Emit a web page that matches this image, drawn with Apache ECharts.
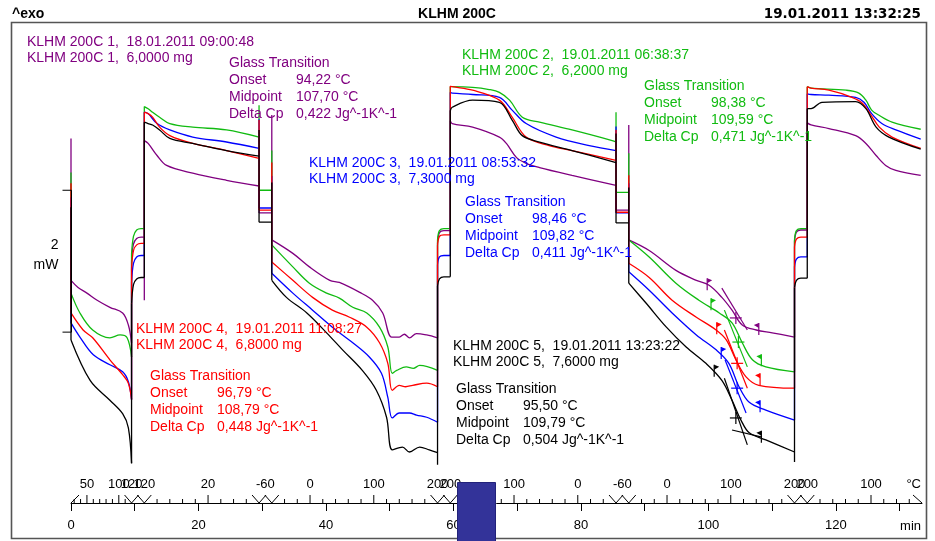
<!DOCTYPE html>
<html>
<head>
<meta charset="utf-8">
<script src="https://cdn.jsdelivr.net/npm/echarts/dist/echarts.min.js"></script>
<style>
  html, body { margin: 0; padding: 0; background: #fff; }
  #chart { width: 935px; height: 541px; }
</style>
</head>
<body>
<div id="chart"></div>
<script>
// ---------------------------------------------------------------
// DSC heat-flow overlay, KLHM 200C samples 1..5 (time in min, heat flow in mW)
// ---------------------------------------------------------------

// Temperature program: boundary times (min) and furnace temperature (°C)
const programTimes = [0, 9.5, 11.5, 29.5, 31.5, 57.5, 59.5, 85.5, 87.5, 113.5, 115.5, 133.5];
const programTemps = [25, 120, 120, -60, -60, 200, 200, -60, -60, 200, 200, 20];
// temperature tick spacing per segment (0 = isothermal)
const tempTickStep = [10, 0, 20, 0, 20, 0, 20, 0, 20, 0, 20];
// temperature labels: [segment, °C] on ramps, [segment, °C, fraction] on isotherms
const tempLabels = [
  [0, 50], [0, 100], [1, 120, 0], [1, 120, 1], [2, 20], [3, -60, 0.5],
  [4, 0], [4, 100], [5, 200, 0], [5, 200, 1], [6, 100], [6, 0], [7, -60, 0.5],
  [8, 0], [8, 100], [9, 200, 0], [9, 200, 1], [10, 100]
];
const timeTicks = [0, 10, 20, 30, 40, 50, 60, 70, 80, 90, 100, 110, 120, 130];
const timeLabels = [0, 20, 40, 60, 80, 100, 120];
const bracketSpan = 2; // mW

// Sample identification
const sampleNames = ['KLHM 200C 1', 'KLHM 200C 2', 'KLHM 200C 3', 'KLHM 200C 4', 'KLHM 200C 5'];
const sampleDates = ['18.01.2011 09:00:48', '19.01.2011 06:38:37', '19.01.2011 08:53:32', '19.01.2011 11:08:27', '19.01.2011 13:23:22'];
const sampleMasses = ['6,0000', '6,2000', '7,3000', '6,8000', '7,6000'];
const sampleColors = ['#800080', '#11bb11', '#0000ff', '#ff0000', '#000000'];

// Glass transition results
const gtOnsetText = ['94,22', '98,38', '98,46', '96,79', '95,50'];
const gtMidText = ['107,70', '109,59', '109,82', '108,79', '109,79'];
const gtDeltaCpText = ['0,422', '0,471', '0,411', '0,448', '0,504'];

// Glass transition evaluation points on the 2nd heating [min, mW]
const gtOnset = [[99.8, 0.66], [100.4, 0.38], [102.0, -0.31], [101.3, 0.04], [100.9, -0.56]];
const gtEnd   = [[107.9, 0.03], [108.3, -0.41], [108.1, -1.06], [108.1, -0.68], [108.3, -1.49]];
const gtMid   = [[104.3, 0.20], [104.7, -0.14], [104.5, -0.79], [104.5, -0.44], [104.3, -1.21]];
const gtTangentStart = [[102.1, 0.62], [102.5, 0.31], [102.6, -0.39], [102.5, 0.03], [102.5, -0.65]];
const gtTangentEnd   = [[106.1, 0.03], [106.1, -0.49], [105.9, -1.14], [106.1, -0.79], [106.1, -1.59]];
const gtBaselineAfter = [null, null, null, null, [[103.7, -1.38], [108.4, -1.48]]];

// Heat-flow curves [min, mW]; repeated times are the vertical steps at segment changes
const curve1 = [
  [0, 2.73], [0, 0.73], [1.1, 0.63], [2.5, 0.55], [4.1, 0.45], [6.1, 0.35], [8.1, 0.27], [9.0, 0.10], [9.5, -0.15],
  [9.5, 1.0], [9.8, 1.24], [10.3, 1.32], [11.0, 1.34], [11.5, 1.34], [11.5, 0.45],
  [11.5, 2.70], [12.1, 2.66], [13.5, 2.49], [15.0, 2.35], [19.1, 2.24], [24.4, 2.14], [29.5, 2.06],
  [29.5, 1.68], [31.5, 1.68], [31.5, 3.06],
  [31.5, 1.30], [34.8, 1.11], [37.4, 0.92], [40.6, 0.73], [42.1, 0.70], [45.3, 0.56], [47.3, 0.45], [48.9, 0.27],
  [50.3, -0.07], [51.5, -0.07], [52.3, -0.03], [53.1, -0.08], [54.2, -0.02], [55.8, -0.04], [57.5, -0.08],
  [57.5, 1.25], [57.8, 1.40], [58.5, 1.43], [59.5, 1.43],
  [59.5, 2.98], [59.8, 2.94], [63.0, 2.89], [67.2, 2.75], [68.3, 2.66], [69.9, 2.46], [71.4, 2.38], [73.5, 2.32], [78.6, 2.21], [85.5, 2.07],
  [85.5, 1.72], [87.5, 1.72], [87.5, 2.92],
  [87.5, 1.30], [90.7, 1.15], [94.9, 0.87], [98.1, 0.73], [100.1, 0.66], [102.1, 0.49], [103.7, 0.31], [105.3, 0.10], [107.5, 0.03], [110.0, -0.01], [113.5, -0.07],
  [113.5, 1.28], [113.8, 1.41], [114.5, 1.44], [115.5, 1.44],
  [115.5, 2.95], [116.1, 2.92], [118.9, 2.87], [123.1, 2.77], [124.7, 2.66], [126.3, 2.49], [127.8, 2.35], [129.4, 2.28], [133.3, 2.21]
];
const curve2 = [
  [0, 2.25], [0, 0.55], [1.4, 0.27], [3.4, 0.03], [6.1, -0.08], [7.7, -0.04], [8.8, -0.08], [9.5, -0.35],
  [9.5, 1.1], [9.8, 1.35], [10.3, 1.44], [11.0, 1.46], [11.5, 1.46],
  [11.5, 3.18], [12.1, 3.15], [12.8, 3.10], [13.9, 3.03], [15.5, 2.94], [19.1, 2.89], [24.4, 2.85], [29.5, 2.75], [29.5, 3.2],
  [29.5, 2.0], [31.5, 2.0], [31.5, 2.56],
  [31.5, 1.23], [34.8, 0.92], [37.4, 0.69], [40.1, 0.55], [42.1, 0.48], [44.2, 0.35], [46.4, 0.27], [48.4, 0.07],
  [49.7, -0.21], [50.4, -0.58], [51.1, -0.54], [52.6, -0.49], [53.7, -0.51], [54.7, -0.47], [57.5, -0.54],
  [57.5, 1.3], [57.8, 1.43], [58.5, 1.46], [59.5, 1.46],
  [59.5, 3.46], [63.0, 3.45], [65.6, 3.42], [67.2, 3.38], [68.8, 3.27], [70.8, 3.03], [73.5, 2.96], [78.6, 2.85], [84.9, 2.70], [85.5, 2.68], [85.5, 3.1],
  [85.5, 1.97], [87.5, 1.97], [87.5, 2.52],
  [87.5, 1.30], [90.7, 1.06], [94.9, 0.69], [98.5, 0.45], [101.7, 0.27], [103.7, 0.13], [105.3, -0.15], [106.9, -0.39], [109.0, -0.49], [113.5, -0.56],
  [113.5, 1.3], [113.8, 1.43], [114.5, 1.46], [115.5, 1.46],
  [115.5, 3.46], [116.1, 3.44], [121.6, 3.41], [123.6, 3.37], [124.7, 3.27], [125.6, 3.13], [126.7, 3.06], [128.8, 2.96], [133.3, 2.86]
];
const curve3 = [
  [0, 1.9], [0, 0.13], [1.4, -0.07], [3.5, -0.32], [6.1, -0.46], [8.1, -0.56], [9.0, -0.70], [9.5, -0.95],
  [9.5, 0.7], [9.8, 0.97], [10.3, 1.06], [11.0, 1.08], [11.5, 1.08],
  [11.5, 3.1], [12.1, 3.08], [13.5, 2.94], [15.5, 2.85], [19.1, 2.75], [24.4, 2.68], [29.5, 2.59], [29.5, 3.0],
  [29.5, 1.75], [31.5, 1.75], [31.5, 2.2],
  [31.5, 0.83], [34.8, 0.55], [37.9, 0.31], [41.0, 0.07], [44.2, -0.15], [46.8, -0.35], [48.7, -0.58], [49.7, -0.92],
  [50.4, -1.21], [51.5, -1.14], [53.1, -1.14], [54.2, -1.17], [55.8, -1.20], [57.5, -1.27],
  [57.5, 0.95], [57.8, 1.06], [58.5, 1.08], [59.5, 1.08],
  [59.5, 3.38], [59.8, 3.37], [63.0, 3.35], [67.2, 3.31], [69.2, 3.13], [71.4, 2.94], [76.1, 2.75], [81.3, 2.63], [85.5, 2.56], [85.5, 2.9],
  [85.5, 1.68], [87.5, 1.68], [87.5, 2.1],
  [87.5, 0.85], [90.7, 0.59], [94.3, 0.27], [98.1, -0.04], [101.2, -0.25], [103.2, -0.44], [104.8, -0.77], [106.4, -0.99], [109.0, -1.10], [113.5, -1.24],
  [113.5, 0.92], [113.8, 1.03], [114.5, 1.06], [115.5, 1.06],
  [115.5, 3.36], [116.1, 3.35], [118.9, 3.34], [123.1, 3.31], [124.4, 3.24], [125.6, 3.08], [127.2, 2.94], [129.4, 2.85], [133.3, 2.72]
];
const curve4 = [
  [0, 2.10], [0, 0.27], [1.9, 0.03], [3.4, -0.08], [6.1, -0.39], [8.1, -0.6], [9.0, -0.72], [9.5, -0.95],
  [9.5, 0.9], [9.8, 1.15], [10.3, 1.23], [11.0, 1.25], [11.5, 1.25],
  [11.5, 3.1], [12.1, 3.08], [12.8, 3.03], [13.9, 2.89], [15.5, 2.77], [19.1, 2.66], [24.4, 2.56], [29.5, 2.45], [29.5, 2.99],
  [29.5, 1.72], [31.5, 1.72], [31.5, 2.39],
  [31.5, 0.99], [34.8, 0.73], [37.9, 0.49], [41.0, 0.31], [43.7, 0.21], [46.4, 0.07], [48.4, -0.15], [49.7, -0.44],
  [50.4, -0.82], [51.5, -0.75], [52.5, -0.77], [53.6, -0.75], [55.8, -0.72], [57.5, -0.77],
  [57.5, 1.22], [57.8, 1.35], [58.5, 1.37], [59.5, 1.37],
  [59.5, 3.47], [59.8, 3.46], [63.0, 3.41], [67.2, 3.27], [69.2, 3.03], [71.4, 2.75], [75.0, 2.63], [78.6, 2.56], [85.5, 2.42], [85.5, 2.85],
  [85.5, 1.69], [87.5, 1.69], [87.5, 2.21],
  [87.5, 0.97], [90.7, 0.77], [94.3, 0.45], [98.1, 0.21], [101.2, 0.03], [102.8, -0.11], [104.3, -0.39], [105.9, -0.63], [107.9, -0.75], [113.5, -0.79],
  [113.5, 1.2], [113.8, 1.31], [114.5, 1.34], [115.5, 1.34],
  [115.5, 3.46], [116.1, 3.44], [118.9, 3.41], [122.5, 3.31], [124.1, 3.23], [125.5, 3.06], [126.8, 2.89], [128.8, 2.75], [133.3, 2.59]
];
const curve5 = [
  [0, 1.76], [0, -0.11], [3.0, -0.68], [6.1, -0.96], [8.1, -1.15], [9.0, -1.35], [9.5, -1.85],
  [9.5, 0.4], [9.8, 0.67], [10.3, 0.75], [11.0, 0.77], [11.5, 0.77],
  [11.5, 2.96], [12.1, 2.94], [12.8, 2.92], [13.9, 2.85], [15.5, 2.73], [19.1, 2.66], [24.4, 2.56], [29.5, 2.48], [29.5, 2.85],
  [29.5, 1.55], [31.5, 1.55], [31.5, 2.11],
  [31.5, 0.73], [33.8, 0.49], [37.0, 0.27], [40.1, -0.01], [42.6, -0.25], [45.7, -0.54], [47.9, -0.82], [49.5, -1.20],
  [50.4, -1.66], [52.0, -1.62], [53.1, -1.69], [54.7, -1.62], [56.2, -1.66], [57.5, -1.70], [57.5, -1.87],
  [57.5, 0.65], [57.8, 0.75], [58.5, 0.78], [59.5, 0.78],
  [59.5, 3.12], [59.8, 3.17], [63.0, 3.27], [67.2, 3.24], [69.2, 2.99], [70.8, 2.77], [73.5, 2.68], [78.6, 2.56], [85.5, 2.39], [85.5, 2.8],
  [85.5, 1.54], [87.5, 1.54], [87.5, 2.04],
  [87.5, 0.69], [90.2, 0.41], [93.4, 0.07], [96.5, -0.21], [99.6, -0.44], [102.1, -0.68], [103.7, -0.96], [105.1, -1.24], [106.4, -1.42], [109.0, -1.52], [113.5, -1.69], [113.5, -1.83],
  [113.5, 0.63], [113.8, 0.73], [114.5, 0.76], [115.5, 0.76],
  [115.5, 3.15], [116.1, 3.15], [117.8, 3.24], [123.1, 3.25], [124.7, 3.15], [126.3, 2.89], [128.3, 2.75], [133.3, 2.58]
];
const curves = [curve1, curve2, curve3, curve4, curve5];

// ---------------------------------------------------------------
const Y_MIN = -2, Y_MAX = 4.4, T_MAX = 133.5;
const AXIS_OFFSET = 29;
const FONT = '"Liberation Sans", Arial, sans-serif';

// Split a curve into smooth runs (broken at vertical steps) and the vertical steps themselves
function smoothRuns(data) {
  const out = [];
  data.forEach((p, i) => {
    if (i > 0 && p[0] === data[i - 1][0]) out.push(null);
    out.push(p);
  });
  return out;
}
function verticalSteps(data) {
  const out = [];
  for (let i = 1; i < data.length; i++) {
    if (data[i][0] === data[i - 1][0]) {
      if (!out.length || out[out.length - 1] === null || out[out.length - 1] !== data[i - 1]) {
        if (out.length) out.push(null);
        out.push(data[i - 1]);
      }
      out.push(data[i]);
    }
  }
  return out;
}

// Temperature scale items derived from the program
function programTimeAt(seg, temp, frac) {
  const t0 = programTimes[seg], t1 = programTimes[seg + 1];
  if (frac !== undefined) return t0 + frac * (t1 - t0);
  const T0 = programTemps[seg], T1 = programTemps[seg + 1];
  return t0 + (temp - T0) / (T1 - T0) * (t1 - t0);
}
const tempScaleItems = [];
for (let s = 0; s < programTemps.length - 1; s++) {
  const T0 = programTemps[s], T1 = programTemps[s + 1], step = tempTickStep[s];
  if (!step || T0 === T1) continue;
  const lo = Math.min(T0, T1), hi = Math.max(T0, T1);
  for (let T = Math.ceil(lo / step) * step; T <= hi; T += step) {
    if (T === T0 || T === T1) continue;
    const major = tempLabels.some(l => l[0] === s && l[1] === T && l.length === 2);
    tempScaleItems.push({ kind: 'tick', t: programTimeAt(s, T), major });
  }
}
for (let i = 1; i < programTimes.length - 1; i++) tempScaleItems.push({ kind: 'v', t: programTimes[i] });
tempScaleItems.push({ kind: 'start', t: programTimes[0] });
tempScaleItems.push({ kind: 'end', t: T_MAX });
tempLabels.forEach(l => tempScaleItems.push({ kind: 'label', t: programTimeAt(l[0], l[1], l[2]), text: String(l[1]) }));
tempScaleItems.push({ kind: 'unit', t: T_MAX, text: '°C' });

function renderTempScale(params, api) {
  const it = tempScaleItems[params.dataIndex];
  const p = api.coord([it.t, Y_MIN]);
  const x = p[0], y = p[1] + AXIS_OFFSET;
  const st = { stroke: '#000', lineWidth: 1, fill: null };
  if (it.kind === 'tick') {
    return { type: 'line', shape: { x1: x, y1: y, x2: x, y2: y - (it.major ? 8 : 4) }, style: st };
  }
  if (it.kind === 'v') {
    return { type: 'polyline', shape: { points: [[x - 7, y - 8], [x, y], [x + 7, y - 8]] }, style: st };
  }
  if (it.kind === 'start') {
    return { type: 'line', shape: { x1: x, y1: y, x2: x + 8, y2: y - 8 }, style: st };
  }
  if (it.kind === 'end') {
    return { type: 'line', shape: { x1: x - 9, y1: y - 8, x2: x, y2: y }, style: st };
  }
  if (it.kind === 'unit') {
    return { type: 'text', x: x - 1, y: y - 19, style: { text: it.text, font: '13px ' + FONT, fill: '#000', align: 'right', verticalAlign: 'middle' } };
  }
  return { type: 'text', x: x, y: y - 19, style: { text: it.text, font: '13px ' + FONT, fill: '#000', align: 'center', verticalAlign: 'middle' } };
}

// 2 mW scale bracket at the start of the time axis
function renderBracket(params, api) {
  const a = api.coord([0, 0]), b = api.coord([0, bracketSpan]);
  const x = Math.round(a[0]) + 0.5;
  const st = { stroke: '#000', lineWidth: 1, fill: null };
  const midY = (a[1] + b[1]) / 2;
  return {
    type: 'group', children: [
      { type: 'polyline', shape: { points: [[x - 9, a[1]], [x, a[1]], [x, b[1]], [x - 9, b[1]]] }, style: st },
      { type: 'text', x: x - 13, y: midY - 16, style: { text: String(bracketSpan), font: '14px ' + FONT, fill: '#000', align: 'right', verticalAlign: 'middle' } },
      { type: 'text', x: x - 13, y: midY + 4, style: { text: 'mW', font: '14px ' + FONT, fill: '#000', align: 'right', verticalAlign: 'middle' } }
    ]
  };
}

// Glass transition evaluation marks (tangent, midpoint cross, onset/end flags)
function renderGlassTransition(params, api) {
  const i = params.dataIndex, color = sampleColors[i];
  const st = { stroke: color, lineWidth: 1.2, fill: null };
  const on = api.coord(gtOnset[i]), en = api.coord(gtEnd[i]), mid = api.coord(gtMid[i]);
  const a = api.coord(gtTangentStart[i]), b = api.coord(gtTangentEnd[i]);
  const children = [
    { type: 'line', shape: { x1: a[0], y1: a[1], x2: b[0], y2: b[1] }, style: st },
    { type: 'line', shape: { x1: mid[0] - 6, y1: mid[1], x2: mid[0] + 6, y2: mid[1] }, style: st },
    { type: 'line', shape: { x1: mid[0], y1: mid[1] - 6, x2: mid[0], y2: mid[1] + 6 }, style: st },
    { type: 'line', shape: { x1: on[0], y1: on[1] - 7, x2: on[0], y2: on[1] + 5 }, style: st },
    { type: 'polygon', shape: { points: [[on[0], on[1] - 7], [on[0] + 5, on[1] - 5], [on[0], on[1] - 2]] }, style: { fill: color } },
    { type: 'line', shape: { x1: en[0], y1: en[1] - 7, x2: en[0], y2: en[1] + 5 }, style: st },
    { type: 'polygon', shape: { points: [[en[0], en[1] - 7], [en[0] - 5, en[1] - 5], [en[0], en[1] - 2]] }, style: { fill: color } }
  ];
  const bl = gtBaselineAfter[i];
  if (bl) {
    const p = api.coord(bl[0]), q = api.coord(bl[1]);
    children.push({ type: 'line', shape: { x1: p[0], y1: p[1], x2: q[0], y2: q[1] }, style: st });
  }
  return { type: 'group', children };
}

// Text annotations (sample header and glass transition block)
const headerPos = [[27, 42], [462, 55], [309, 163], [136, 329], [453, 346]];
const gtBlockPos = [[229, 63], [644, 86], [465, 202], [150, 376], [456, 389]];
const graphics = [];
function addText(x, y, text, color, opts) {
  graphics.push({
    type: 'text', x, y, z: 50,
    style: Object.assign({ text, fill: color, font: '14px ' + FONT, align: 'left', verticalAlign: 'middle' }, opts || {})
  });
}
for (let i = 0; i < 5; i++) {
  const c = sampleColors[i];
  const [hx, hy] = headerPos[i];
  addText(hx, hy, sampleNames[i] + ',  ' + sampleDates[i], c);
  addText(hx, hy + 16.5, sampleNames[i] + ',  ' + sampleMasses[i] + ' mg', c);
  const [gx, gy] = gtBlockPos[i];
  addText(gx, gy, 'Glass Transition', c);
  addText(gx, gy + 17, 'Onset', c);
  addText(gx + 67, gy + 17, gtOnsetText[i] + ' °C', c);
  addText(gx, gy + 34, 'Midpoint', c);
  addText(gx + 67, gy + 34, gtMidText[i] + ' °C', c);
  addText(gx, gy + 51, 'Delta Cp', c);
  addText(gx + 67, gy + 51, gtDeltaCpText[i] + ' Jg^-1K^-1', c);
}
// page header
addText(12, 14, '^exo', '#000', { font: 'bold 14px ' + FONT });
addText(457, 14, 'KLHM 200C', '#000', { font: 'bold 14px ' + FONT, align: 'center' });
addText(921, 14, '19.01.2011 13:32:25', '#000', { font: 'bold 13.5px "DejaVu Sans", sans-serif', align: 'right' });
// time unit
addText(921, 526, 'min', '#000', { font: '13px ' + FONT, align: 'right' });
// frame
graphics.push({ type: 'rect', z: 40, shape: { x: 11.5, y: 22.5, width: 915, height: 516 }, style: { fill: null, stroke: '#555', lineWidth: 1.6 } });
// selection marker on the time axis
graphics.push({ type: 'rect', z: 60, shape: { x: 457.5, y: 482.5, width: 38, height: 60 }, style: { fill: '#333399', stroke: '#22227a', lineWidth: 1 } });

const chart = echarts.init(document.getElementById('chart'), null, { renderer: 'canvas' });
const lineSeries = [];
curves.forEach((data, i) => {
  const common = { type: 'line', name: sampleNames[i], symbol: 'none', clip: true, z: 2 + i,
    lineStyle: { color: sampleColors[i], width: 1.3 }, animation: false, connectNulls: false };
  lineSeries.push(Object.assign({}, common, { data: smoothRuns(data), smooth: 0.35 }));
  lineSeries.push(Object.assign({}, common, { data: verticalSteps(data), smooth: false }));
});

chart.setOption({
  animation: false,
  backgroundColor: '#fff',
  grid: { left: 71, right: 13, top: 20, bottom: 67 },
  xAxis: {
    type: 'value', min: 0, max: T_MAX, offset: AXIS_OFFSET,
    axisLine: { show: true, onZero: false, lineStyle: { color: '#000', width: 1 } },
    axisTick: { show: true, length: 8, customValues: timeTicks, lineStyle: { color: '#000' } },
    axisLabel: { customValues: timeLabels, margin: 16, color: '#000', fontSize: 13, fontFamily: FONT },
    splitLine: { show: false }
  },
  yAxis: { type: 'value', min: Y_MIN, max: Y_MAX, show: false },
  series: lineSeries.concat([
    { type: 'custom', name: 'temperature', renderItem: renderTempScale, clip: false, silent: true,
      data: tempScaleItems.map(it => [it.t, Y_MIN]), z: 10 },
    { type: 'custom', name: 'scale', renderItem: renderBracket, clip: false, silent: true,
      data: [[0, 0]], z: 10 },
    { type: 'custom', name: 'glass transition', renderItem: renderGlassTransition, clip: false, silent: true,
      data: gtMid, z: 20 }
  ]),
  graphic: graphics
});
</script>
</body>
</html>
